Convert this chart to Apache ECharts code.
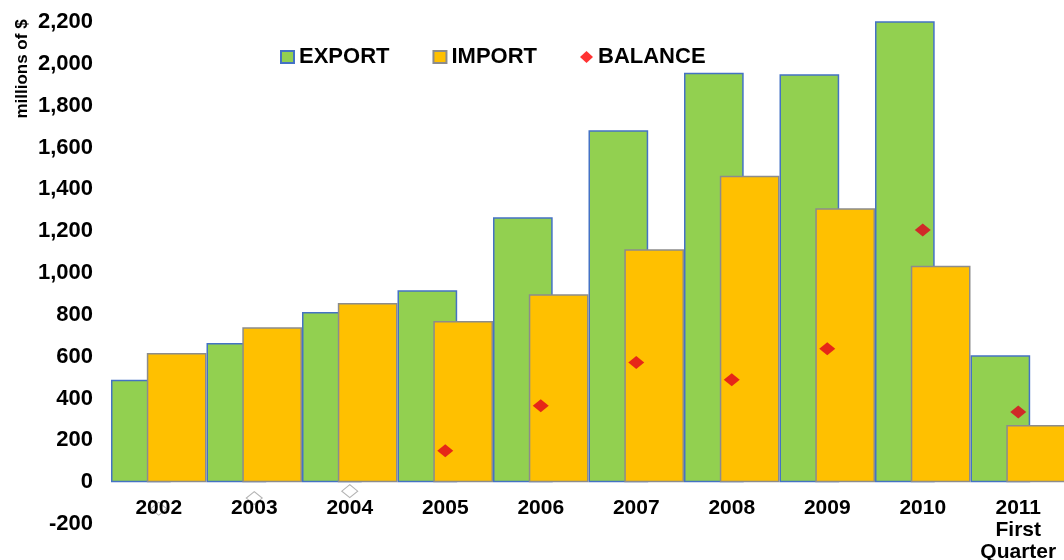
<!DOCTYPE html>
<html>
<head>
<meta charset="utf-8">
<script src="https://cdn.jsdelivr.net/npm/echarts@6/dist/echarts.min.js"></script>
<style>
html,body{margin:0;padding:0;background:#fff;}
#c{width:1064px;height:560px;}
</style>
</head>
<body>
<div id="c"></div>
<script>
var categories = ['2002','2003','2004','2005','2006','2007','2008','2009','2010','2011\nFirst\nQuarter'];
var exportValues = [490, 665, 813, 918, 1267, 1683, 1957, 1950, 2237, 607];
var importValues = [617, 741, 856, 771, 898, 1114, 1465, 1309, 1035, 273];
var balanceValues = [-127, -76, -43, 150, 365, 572, 490, 638, 1205, 336];
var yMin = -200, yMax = 2200, yStep = 200;

var FONT = '"Liberation Sans", Arial, sans-serif';
var chart = echarts.init(document.getElementById('c'), null, {renderer: 'canvas'});

var balanceData = balanceValues.map(function (v) {
  return v < 0
    ? {value: v, itemStyle: {color: '#ffffff', borderColor: '#a0a0a0', borderWidth: 1}}
    : {value: v};
});

chart.setOption({
  animation: false,
  backgroundColor: '#ffffff',
  textStyle: {fontFamily: FONT},
  grid: {left: 111, right: -2, top: 22, bottom: 36, containLabel: false, outerBoundsMode: 'none'},
  legend: {
    left: 275, top: 41,
    itemWidth: 13, itemHeight: 12, itemGap: 43,
    textStyle: {fontFamily: FONT, fontSize: 22, fontWeight: 'bold', color: '#000'},
    data: [
      {name: 'EXPORT', icon: 'rect'},
      {name: 'IMPORT', icon: 'rect'},
      {name: 'BALANCE', icon: 'diamond', itemStyle: {color: '#ff0000'}}
    ]
  },
  xAxis: {
    type: 'category',
    data: categories,
    z: 5,
    axisLine: {show: false, onZero: false},
    axisTick: {show: false},
    axisLabel: {
      margin: -27, fontFamily: FONT, fontSize: 21, fontWeight: 'bold',
      color: '#000', lineHeight: 22, interval: 0
    },
    splitLine: {show: false}
  },
  yAxis: {
    type: 'value',
    min: yMin, max: yMax, interval: yStep,
    axisLine: {show: false},
    axisTick: {show: false},
    splitLine: {show: false},
    axisLabel: {
      margin: 18, fontFamily: FONT, fontSize: 22, fontWeight: 'bold', color: '#000',
      formatter: function (v) { return v.toLocaleString('en-US'); }
    }
  },
  graphic: [{
    type: 'text',
    x: 22, y: 69,
    rotation: Math.PI / 2,
    style: {
      text: 'millions of $', fontFamily: FONT, fontSize: 17, fontWeight: 'bold',
      fill: '#000', align: 'center', verticalAlign: 'middle'
    }
  }],
  series: [
    {
      name: 'EXPORT', type: 'bar', data: exportValues,
      barCategoryGap: '0%', barGap: '-40%',
      itemStyle: {color: '#92D050', borderColor: '#4472C4', borderWidth: 1.5},
      z: 2
    },
    {
      name: 'IMPORT', type: 'bar', data: importValues,
      barCategoryGap: '0%', barGap: '-40%',
      itemStyle: {color: '#FFC000', borderColor: '#8c8c8c', borderWidth: 1.5},
      z: 3
    },
    {
      name: 'BALANCE', type: 'scatter', data: balanceData,
      symbol: 'diamond', symbolSize: [16, 13],
      itemStyle: {color: '#E0001E'},
      z: 4
    }
  ]
});
</script>
</body>
</html>
